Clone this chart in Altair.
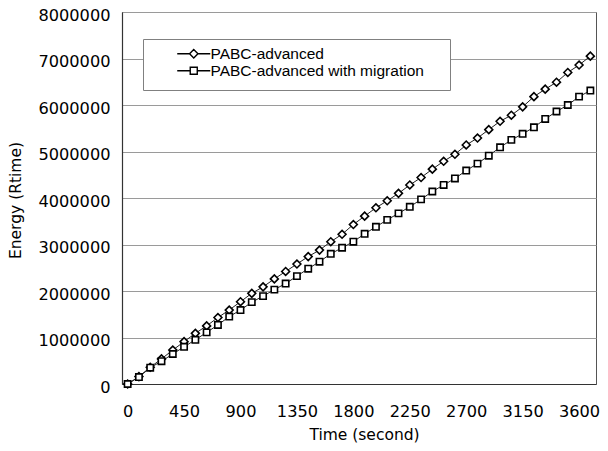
import altair as alt
import pandas as pd

# ---- data ----
time_s = [0, 90, 180, 270, 360, 450, 540, 630, 720, 810, 900, 990, 1080, 1170,
          1260, 1350, 1440, 1530, 1620, 1710, 1800, 1890, 1980, 2070, 2160,
          2250, 2340, 2430, 2520, 2610, 2700, 2790, 2880, 2970, 3060, 3150,
          3240, 3330, 3420, 3510, 3600, 3690]

pabc_advanced = [0, 160000, 360000, 540000, 730000, 910000, 1090000, 1250000,
                 1430000, 1590000, 1770000, 1950000, 2090000, 2260000, 2420000,
                 2580000, 2740000, 2880000, 3060000, 3220000, 3430000, 3610000,
                 3790000, 3940000, 4100000, 4280000, 4440000, 4620000, 4790000,
                 4940000, 5140000, 5290000, 5470000, 5650000, 5780000, 5960000,
                 6180000, 6340000, 6490000, 6700000, 6860000, 7050000]

pabc_migration = [0, 150000, 350000, 490000, 645000, 800000, 950000, 1110000,
                  1270000, 1450000, 1590000, 1760000, 1890000, 2030000, 2160000,
                  2320000, 2480000, 2630000, 2800000, 2930000, 3060000, 3230000,
                  3380000, 3530000, 3670000, 3810000, 3970000, 4140000, 4280000,
                  4420000, 4590000, 4740000, 4910000, 5090000, 5250000, 5380000,
                  5520000, 5700000, 5860000, 6000000, 6180000, 6310000]

series_names = ["PABC-advanced", "PABC-advanced with migration"]
x_ticks = [0, 450, 900, 1350, 1800, 2250, 2700, 3150, 3600]
y_ticks = [0, 1000000, 2000000, 3000000, 4000000, 5000000, 6000000, 7000000, 8000000]

rows = []
for t, a, m in zip(time_s, pabc_advanced, pabc_migration):
    rows.append({"time": t, "energy": a, "series": series_names[0], "legend_series": series_names[0]})
    rows.append({"time": t, "energy": m, "series": series_names[1], "legend_series": series_names[1]})
df = pd.DataFrame(rows)

AXIS_FONT = "DejaVu Sans"

x_enc = alt.X("time:Q",
              scale=alt.Scale(domain=[-45, 3735], nice=False, zero=False),
              axis=alt.Axis(values=x_ticks, title="Time (second)", format="d",
                            grid=False, ticks=False, tickSize=0,
                            labelPadding=19, titleX=242, titleY=50,
                            titleBaseline="middle", titleAlign="center",
                            labelFlush=False))
y_enc = alt.Y("energy:Q",
              scale=alt.Scale(domain=[0, 8000000], nice=False),
              axis=alt.Axis(values=y_ticks, title="Energy (Rtime)", format="d",
                            grid=True, ticks=False, tickSize=0, labelPadding=12,
                            labelOffset=3.2,
                            titleX=-107, titleY=188, titleAngle=270,
                            titleAlign="center", titleBaseline="middle"))

base = alt.Chart(df)

lines = base.mark_line(color="#222222", strokeWidth=1).encode(
    x=x_enc, y=y_enc, detail="series:N")

points = base.mark_point(filled=True, fill="white", stroke="black",
                         strokeWidth=1.6, opacity=1).encode(
    x=x_enc, y=y_enc,
    shape=alt.Shape("series:N",
                    scale=alt.Scale(domain=series_names, range=["diamond", "square"]),
                    legend=None),
    size=alt.Size("series:N",
                  scale=alt.Scale(domain=series_names, range=[62, 40]),
                  legend=None),
)

# legend symbols: a short line with the marker in its middle (unit = 4.5 px)
diamond_path = "M-3.67,0H-0.93M0.93,0H3.67M-0.93,0L0,-0.93L0.93,0L0,0.93Z"
square_path = "M-3.67,0H-0.78M0.78,0H3.67M-0.78,-0.78H0.78V0.78H-0.78Z"

legend_layer = base.mark_point(
    filled=False, color="black", strokeWidth=1.4, opacity=0).encode(
    x=x_enc, y=y_enc,
    shape=alt.Shape("legend_series:N",
                    scale=alt.Scale(domain=series_names, range=[diamond_path, square_path]),
                    legend=alt.Legend(
                        orient="none", legendX=21, legendY=27,
                        title="\u00a0", titleOrient="left", titleFont="Liberation Sans",
                        titleFontSize=20, titlePadding=20, titleBaseline="top",
                        padding=7, fillColor="white", strokeColor="#808080",
                        labelFont="Liberation Sans", labelFontSize=15.5,
                        labelColor="black", labelOffset=9, symbolOffset=16,
                        rowPadding=0,
                        labelExpr="datum.label + '\u2009\u2009\u2800'",
                        symbolSize=81, symbolStrokeWidth=1.4,
                        symbolStrokeColor="black",
                        symbolOpacity=1, labelLimit=0)),
)

chart = alt.layer(lines, points, legend_layer).resolve_scale(
    shape="independent", size="independent"
).properties(
    width=474, height=372,
    padding={"left": 114, "top": 4, "right": 4, "bottom": 59},
    autosize=alt.AutoSizeParams(type="none"),
    background="white",
).configure_view(
    stroke="#555555", strokeWidth=1
).configure_axis(
    domainColor="#333333", domainWidth=1.2,
    gridColor="#9a9a9a", gridWidth=1,
    labelFont=AXIS_FONT, labelFontSize=16.2, labelColor="black",
    titleFont=AXIS_FONT, titleFontSize=15.5, titleColor="black", titleFontWeight="normal",
)

chart.save("out.html", embed_options={"renderer": "svg", "actions": False})
